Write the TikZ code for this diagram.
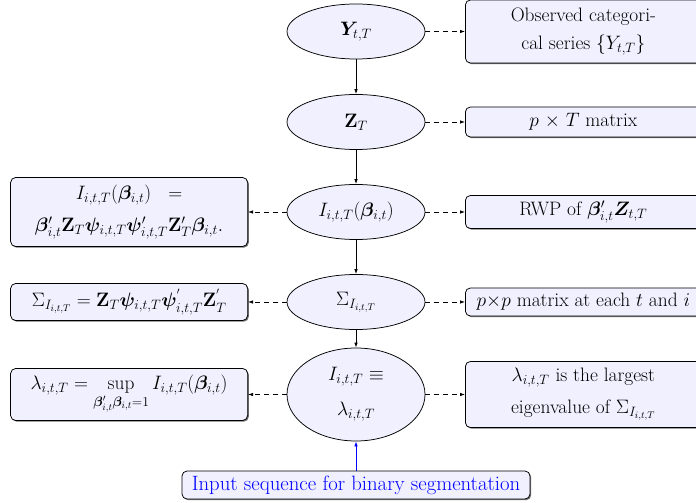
\RequirePackage{fix-cm}
\documentclass[tikz,border=0pt]{standalone}
\usepackage{amsmath,amssymb,bm}
\usetikzlibrary{shapes.geometric,arrows.meta,shadows}
\begin{document}
\begin{tikzpicture}[x=1bp,y=-1bp,
  every node/.style={font=\fontsize{19.5}{32}\selectfont},
  ell/.style={ellipse, draw, fill=blue!6, minimum width=138bp, minimum height=55bp, inner sep=0pt, line width=0.75bp, align=center},
  box/.style={rectangle, rounded corners=5bp, draw, fill=blue!6, line width=0.75bp, align=center, inner sep=0pt,
    drop shadow={shadow xshift=1.2bp, shadow yshift=-1.2bp, fill=black!55, opacity=1}},
  rbox/.style={box, anchor=west, minimum width=236bp},
  lbox/.style={box, anchor=east, minimum width=237bp},
  conn/.style={line width=0.75bp, -{Latex[length=5bp,width=3.5bp]}},
  dconn/.style={conn, dash pattern=on 5bp off 4bp}
]
\useasboundingbox (0,0) rectangle (696,503);

\node[ell] (e1) at (356,31.5) {$\boldsymbol{Y}_{t,T}$};
\node[ell] (e2) at (356,122) {$\mathbf{Z}_T$};
\node[ell] (e3) at (356,212) {$I_{i,t,T}(\boldsymbol{\beta}_{i,t})$};
\node[ell] (e4) at (356,302) {$\Sigma_{I_{i,t,T}}$};
\node[ell, minimum height=93bp, font=\fontsize{19.5}{35}\selectfont] (e5) at (356,394.5) {$I_{i,t,T}\equiv$\\$\lambda_{i,t,T}$};

\node[box, minimum width=348bp, minimum height=28bp, text=blue, font=\fontsize{20.8}{25}\selectfont] (in) at (356,485) {Input sequence for binary segmentation};

\node[rbox, minimum height=63bp, font=\fontsize{19.5}{28}\selectfont] (r1) at (465,31.5) {Observed categori-\\cal series $\{Y_{t,T}\}$};
\node[rbox, minimum height=30bp] (r2) at (465,122) {$p$ $\times$ $T$ matrix};
\node[rbox, minimum height=33bp] (r3) at (465,212) {RWP of $\boldsymbol{\beta}'_{i,t}\boldsymbol{Z}_{t,T}$};
\node[rbox, minimum height=28bp, inner xsep=3bp] (r4) at (465,302) {$p{\times}p$ matrix at each $t$ and $i$};
\node[rbox, minimum height=66bp] (r5) at (465,394.5) {$\lambda_{i,t,T}$ is the largest\\eigenvalue of $\Sigma_{I_{i,t,T}}$};

\node[lbox, minimum height=69bp] (l1) at (248,212) {$I_{i,t,T}(\boldsymbol{\beta}_{i,t})\ \ =$\\$\boldsymbol{\beta}'_{i,t}\mathbf{Z}_T\boldsymbol{\psi}_{i,t,T}\boldsymbol{\psi}'_{i,t,T}\mathbf{Z}'_T\boldsymbol{\beta}_{i,t}.$};
\node[lbox, minimum height=37bp] (l2) at (248,302) {$\Sigma_{I_{i,t,T}} = \mathbf{Z}_T\boldsymbol{\psi}_{i,t,T}\boldsymbol{\psi}^{'}_{i,t,T}\mathbf{Z}^{'}_T$};
\node[lbox, minimum height=52bp] (l3) at (248,394.5) {$\displaystyle\lambda_{i,t,T} = \sup_{\boldsymbol{\beta}'_{i,t}\boldsymbol{\beta}_{i,t}=1} I_{i,t,T}(\boldsymbol{\beta}_{i,t})$};

\draw[conn] (e1) -- (e2);
\draw[conn] (e2) -- (e3);
\draw[conn] (e3) -- (e4);
\draw[conn] (e4) -- (e5);
\draw[conn, blue] (in) -- (e5);

\draw[dconn] (e1) -- (r1);
\draw[dconn] (e2) -- (r2);
\draw[dconn] (e3) -- (r3);
\draw[dconn] (e4) -- (r4);
\draw[dconn] (e5) -- (r5);

\draw[dconn] (e3) -- (l1);
\draw[dconn] (e4) -- (l2);
\draw[dconn] (e5) -- (l3);
\end{tikzpicture}
\end{document}
